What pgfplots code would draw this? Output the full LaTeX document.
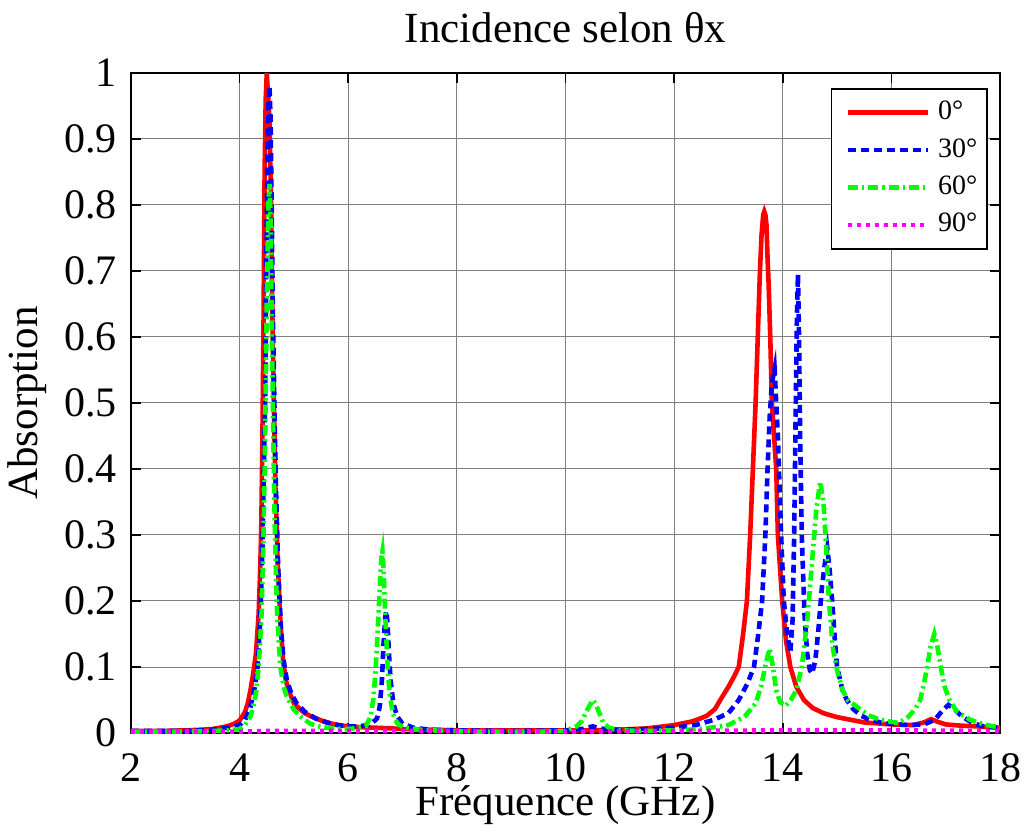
\documentclass[border=0pt]{standalone}
\usepackage{fontspec}
\setmainfont{Liberation Serif}
\usepackage{pgfplots}
\pgfplotsset{compat=1.18}
\definecolor{mred}{RGB}{255,0,0}
\definecolor{mblue}{RGB}{0,0,255}
\definecolor{mgreen}{RGB}{0,255,0}
\definecolor{mmag}{RGB}{255,0,255}
\begin{document}
\begin{tikzpicture}
\begin{axis}[
  name=ax,
  scale only axis,
  width=434.5pt, height=330pt,
  xmin=2, xmax=18, ymin=0, ymax=1,
  xtick={2,4,...,18},
  ytick={0,0.1,...,1.01},
  /pgf/number format/assume math mode=true,
  yticklabel style={/pgf/number format/fixed,/pgf/number format/precision=1, xshift=-3.5pt},
  xticklabel style={inner sep=1pt, yshift=-9pt},
  ticklabel style={font=\fontsize{21}{24}\selectfont},
  title={Incidence selon θx},
  every axis title/.style={at={(rel axis cs:0.5,1)}, anchor=base, yshift=15pt, font=\fontsize{21.5}{24}\selectfont},
  xlabel={Fréquence (GHz)},
  every axis x label/.style={at={(rel axis cs:0.5,0)}, anchor=base, inner sep=0pt, yshift=-41pt, font=\fontsize{21.5}{24}\selectfont},
  ylabel={Absorption},
  every axis y label/.style={at={(rel axis cs:0,0.5)}, anchor=base, xshift=-46.5pt, rotate=90, font=\fontsize{21.5}{24}\selectfont},
  grid=major,
  major grid style={line width=0.5pt, color=black!50},
  axis line style={line width=0.8pt},
  major tick length=5pt,
  tick style={line width=0.8pt, black},
  tick align=inside,
  legend style={at={(1,1)}, anchor=north east, xshift=-6pt, yshift=-7.5pt,
    font=\fontsize{14}{16}\selectfont, draw=black, line width=0.8pt,
    inner xsep=3pt, inner ysep=3.5pt, row sep=1.7pt,
    nodes={inner sep=2pt, text height=10pt, text depth=3pt}},
  legend cell align=left,
  legend image code/.code={\path (-4pt,0pt) (42pt,0pt); \draw[#1] (0pt,0pt) -- (40pt,0pt);},
]
\addplot[mred, line width=2.3pt, solid] coordinates {
(2.0,0.003)(2.5,0.003)(3.0,0.004)(3.3,0.005)(3.5,0.006)(3.7,0.009)(3.8,0.011)(3.9,0.014)
(4.0,0.019)(4.1,0.032)(4.15,0.045)(4.2,0.065)(4.25,0.09)(4.3,0.12)(4.35,0.18)(4.38,0.25)
(4.40,0.32)(4.42,0.45)(4.44,0.62)(4.46,0.85)(4.48,0.96)(4.50,1.0)(4.52,0.97)(4.55,0.93)
(4.58,0.8)(4.60,0.65)(4.63,0.5)(4.66,0.37)(4.70,0.26)(4.75,0.17)(4.80,0.11)(4.85,0.08)
(4.9,0.065)(5.0,0.045)(5.1,0.037)(5.2,0.03)(5.35,0.024)(5.5,0.019)(5.7,0.014)(5.9,0.011)
(6.2,0.009)(6.5,0.008)(6.8,0.007)(7.0,0.006)(7.5,0.005)(8,0.004)(9,0.004)(10,0.004)
(10.5,0.004)(11,0.005)(11.5,0.007)(12.0,0.012)(12.3,0.017)(12.42,0.02)(12.6,0.026)
(12.75,0.036)(12.85,0.05)(13.0,0.07)(13.1,0.085)(13.19,0.10)(13.27,0.15)(13.34,0.2)(13.40,0.3)
(13.45,0.4)(13.50,0.5)(13.54,0.6)(13.58,0.7)(13.61,0.755)(13.64,0.785)(13.66,0.79)(13.68,0.785)(13.70,0.77)
(13.72,0.72)(13.74,0.68)(13.77,0.6)(13.80,0.5)(13.84,0.45)(13.88,0.4)(13.91,0.3)
(13.99,0.2)(14.06,0.14)(14.14,0.1)(14.25,0.07)(14.39,0.05)(14.55,0.038)(14.75,0.03)
(15.0,0.024)(15.5,0.016)(16.0,0.013)(16.4,0.012)(16.6,0.016)(16.73,0.021)(16.85,0.017)
(17.0,0.013)(17.3,0.011)(17.6,0.01)(18,0.008)
};
\addlegendentry{0°}
\addplot[mblue, line width=2.3pt, dash pattern=on 4pt off 2.5pt] coordinates {
(2.0,0.003)(3.0,0.003)(3.5,0.005)(3.8,0.008)(4.0,0.012)(4.1,0.02)(4.2,0.04)(4.28,0.07)
(4.33,0.1)(4.38,0.17)(4.42,0.28)(4.45,0.42)(4.47,0.5)(4.49,0.7)(4.51,0.86)(4.53,0.95)
(4.55,0.98)(4.57,0.93)(4.59,0.8)(4.61,0.65)(4.64,0.5)(4.67,0.37)(4.71,0.25)(4.76,0.16)
(4.81,0.11)(4.87,0.08)(4.95,0.06)(5.05,0.045)(5.2,0.032)(5.4,0.022)(5.6,0.016)(5.8,0.012)
(6.0,0.01)(6.2,0.01)(6.35,0.012)(6.45,0.016)(6.53,0.022)(6.58,0.04)(6.62,0.08)(6.65,0.135)
(6.68,0.175)(6.70,0.185)(6.72,0.17)(6.75,0.12)(6.78,0.08)(6.83,0.045)(6.9,0.025)(7.0,0.014)
(7.2,0.008)(7.5,0.005)(8,0.004)(9,0.003)(10,0.004)(10.3,0.006)(10.5,0.01)(10.7,0.006)
(11,0.005)(11.5,0.006)(12,0.008)(12.4,0.012)(12.73,0.02)(13.0,0.03)(13.19,0.05)(13.35,0.075)
(13.47,0.1)(13.55,0.15)(13.62,0.2)(13.68,0.3)(13.72,0.4)(13.76,0.48)(13.80,0.53)(13.85,0.552)
(13.88,0.5)(13.91,0.45)(13.93,0.4)(13.97,0.3)(14.02,0.2)(14.08,0.15)(14.14,0.123)(14.18,0.17)
(14.21,0.3)(14.24,0.5)(14.26,0.63)(14.28,0.695)(14.30,0.6)(14.32,0.45)(14.35,0.3)(14.40,0.18)
(14.45,0.12)(14.50,0.095)(14.54,0.09)(14.60,0.11)(14.66,0.16)(14.72,0.22)(14.78,0.26)
(14.82,0.28)(14.86,0.25)(14.91,0.2)(14.96,0.14)(15.0,0.1)(15.1,0.065)(15.18,0.05)(15.3,0.036)
(15.45,0.026)(15.6,0.02)(15.8,0.016)(16.0,0.014)(16.3,0.012)(16.6,0.013)(16.8,0.02)
(16.95,0.035)(17.05,0.0425)(17.15,0.037)(17.3,0.025)(17.5,0.015)(17.7,0.01)(18,0.008)
};
\addlegendentry{30°}
\addplot[mgreen, line width=2.3pt, dash pattern=on 5pt off 2pt on 1.2pt off 2pt] coordinates {
(2.0,0.002)(3.0,0.002)(3.5,0.003)(3.8,0.004)(4.0,0.006)(4.1,0.012)(4.2,0.025)(4.25,0.04)
(4.3,0.06)(4.35,0.1)(4.40,0.17)(4.44,0.3)(4.47,0.45)(4.50,0.65)(4.53,0.8)(4.55,0.832)
(4.57,0.78)(4.59,0.63)(4.62,0.45)(4.65,0.3)(4.69,0.18)(4.75,0.1)(4.81,0.07)(4.87,0.055)
(5.0,0.035)(5.12,0.025)(5.3,0.014)(5.5,0.009)(5.8,0.006)(6.0,0.006)(6.2,0.008)(6.33,0.011)
(6.41,0.025)(6.46,0.05)(6.50,0.09)(6.54,0.15)(6.58,0.22)(6.61,0.265)(6.63,0.275)(6.65,0.25)
(6.68,0.18)(6.72,0.11)(6.76,0.06)(6.82,0.03)(6.9,0.015)(7.0,0.009)(7.3,0.005)(7.8,0.003)
(8.5,0.002)(9.5,0.002)(10.0,0.003)(10.2,0.01)(10.3,0.018)(10.4,0.035)(10.5,0.05)(10.55,0.045)
(10.6,0.035)(10.7,0.015)(10.8,0.008)(11.0,0.004)(11.5,0.003)(12.0,0.004)(12.5,0.006)
(13.0,0.012)(13.3,0.025)(13.5,0.045)(13.6,0.07)(13.7,0.11)(13.76,0.128)(13.82,0.1)
(13.88,0.065)(13.95,0.047)(14.05,0.041)(14.15,0.05)(14.25,0.065)(14.35,0.1)(14.45,0.17)
(14.55,0.27)(14.62,0.34)(14.69,0.381)(14.75,0.35)(14.80,0.28)(14.85,0.2)(14.92,0.13)
(15.0,0.095)(15.1,0.065)(15.2,0.05)(15.36,0.04)(15.6,0.026)(15.8,0.02)(16.0,0.017)
(16.14,0.015)(16.32,0.025)(16.45,0.038)(16.53,0.05)(16.6,0.075)(16.66,0.1)(16.72,0.13)
(16.79,0.15)(16.85,0.13)(16.91,0.1)(16.98,0.07)(17.07,0.05)(17.2,0.033)(17.45,0.02)
(17.7,0.013)(17.88,0.01)(18,0.009)
};
\addlegendentry{60°}
\addplot[mmag, line width=2.3pt, dash pattern=on 2pt off 2.5pt] coordinates {
(2,0.002)(4,0.002)(4.5,0.003)(6,0.003)(8,0.003)(10,0.002)(12,0.003)(14,0.004)(16,0.004)(18,0.003)
};
\addlegendentry{90°}
\end{axis}
\pgfresetboundingbox
\path (ax.south west) ++(-65.5pt,-50.5pt) rectangle ++(513pt,417pt);
\end{tikzpicture}
\end{document}
